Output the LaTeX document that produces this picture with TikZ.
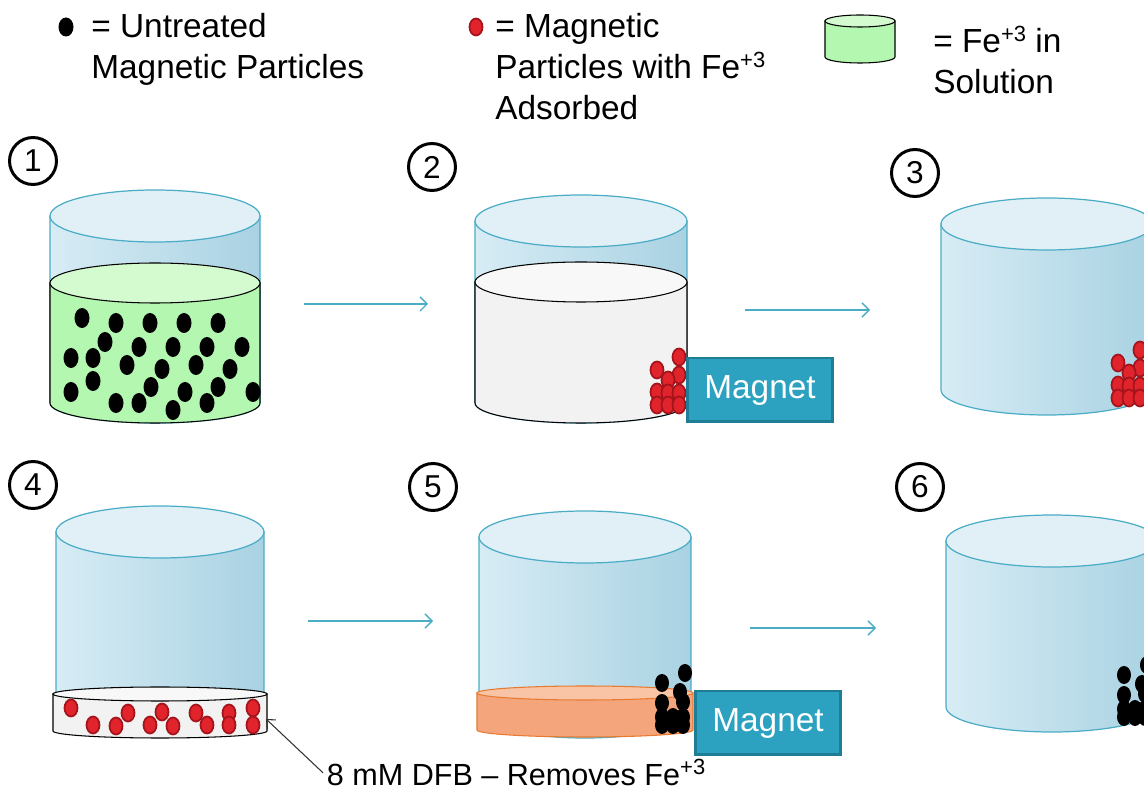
\documentclass[tikz,border=0pt]{standalone}
\usepackage{fontspec}
\setmainfont{Liberation Sans}
\usetikzlibrary{arrows.meta}

\definecolor{glassline}{HTML}{4BACC6}
\definecolor{glasstop}{HTML}{E1F0F7}
\definecolor{glassleft}{HTML}{D7ECF5}
\definecolor{glassright}{HTML}{A9D2E2}
\definecolor{fegreen}{HTML}{B3F7B0}
\definecolor{fegreentop}{HTML}{D3FBCF}
\definecolor{washgray}{HTML}{F2F2F2}
\definecolor{washtop}{HTML}{F8F8F8}
\definecolor{dfborange}{HTML}{F4A57B}
\definecolor{dfbtop}{HTML}{F8C4A5}
\definecolor{dfbline}{HTML}{E8792F}
\definecolor{feparticle}{HTML}{E1232B}
\definecolor{feparticleline}{HTML}{A3141B}
\definecolor{magnetfill}{HTML}{2DA2C0}
\definecolor{magnetline}{HTML}{1F7D96}

% charge written as a raised small number
\newcommand{\charge}[1]{\raisebox{6.5pt}{\fontsize{12.5}{12.5}\selectfont #1}}

\begin{document}
\begin{tikzpicture}[x=0.02cm,y=-0.02cm]
  \tikzstyle{num}=[circle,draw,line width=1.7pt,minimum size=0.94cm,inner sep=0pt,font=\fontsize{18}{20}\selectfont]
  \tikzstyle{txt}=[anchor=base west,align=left,inner sep=0pt,font=\fontsize{19}{23.4}\selectfont]
  \tikzset{glass/.style = {draw=glassline,line width=0.7pt,left color=glassleft,right color=glassright}}
  \tikzset{rim/.style = {draw=glassline,line width=0.7pt,fill=glasstop}}
  \tikzset{solution/.style = {draw=black,line width=0.6pt,fill=fegreen}}
  \tikzset{wash/.style = {draw=black,line width=0.6pt,fill=washgray}}
  \tikzset{dfb/.style = {draw=dfbline,line width=0.6pt,fill=dfborange}}
  \tikzset{flow/.style = {-{Straight Barb[length=4pt,width=8pt]},draw=glassline,line width=0.8pt}}
  \tikzset{pointer/.style = {-{Straight Barb[length=4pt,width=7pt]},draw=black!80,line width=0.6pt}}
  \tikzset{bare/.style = {fill=black}}
  \tikzset{loaded/.style = {fill=feparticle,draw=feparticleline,line width=1pt}}
  \tikzset{magnet/.style = {draw=magnetline,fill=magnetfill,line width=1.7pt,text=white,minimum width=2.9cm,minimum height=1.28cm,font=\fontsize{19}{20}\selectfont}}
  \clip (0,0) rectangle (1144,790);

  % legend (base anchor sits on the last line)
  \fill[bare] (66,27) ellipse[x radius=7.5,y radius=9.5];
  \node[txt] (untreated) at (91,79) {= Untreated\\Magnetic Particles};
  \draw[loaded] (476,27) ellipse[x radius=6.5,y radius=8.5];
  \node[txt] (adsorbed) at (495,120) {= Magnetic\\Particles with Fe\charge{+3}\\Adsorbed};
  \draw[solution] (825,21) -- (825,57) arc[start angle=180,end angle=0,x radius=35,y radius=6] -- (895,21) -- cycle;
  \draw[solution,fill=fegreentop] (860,21) ellipse[x radius=35,y radius=6];
  \node[txt] (insolution) at (933,94) {= Fe\charge{+3} in\\Solution};

  % step numbers
  \node[num] (n1) at (33,161) {1};
  \node[num] (n2) at (432,167) {2};
  \node[num] (n3) at (915,173) {3};
  \node[num] (n4) at (33,485) {4};
  \node[num] (n5) at (433,487) {5};
  \node[num] (n6) at (920,487) {6};

  % 1: particles in Fe solution
  \draw[glass] (50,216) -- (50,403) arc[start angle=180,end angle=0,x radius=105,y radius=20] -- (260,216) -- cycle;
  \draw[rim] (155,216) ellipse[x radius=105,y radius=26];
  \draw[solution] (50,283) -- (50,403) arc[start angle=180,end angle=0,x radius=105,y radius=20] -- (260,283) -- cycle;
  \draw[solution,fill=fegreentop] (155,283) ellipse[x radius=105,y radius=20];
  \foreach \x/\y in {82/318,116/323,150/323,184/323,218/323,
                     105/342,139/347,173/347,207/347,242/347,
                     71/358,93/358,127/365,162/369,196/365,230/369,
                     71/392,93/381,151/387,185/392,218/387,253/392,
                     116/403,139/403,173/410,207/403}
    \fill[bare] (\x,\y) ellipse[x radius=7.5,y radius=10];

  % 2: magnet pulls the loaded particles
  \draw[glass] (475,221) -- (475,403) arc[start angle=180,end angle=0,x radius=106,y radius=20] -- (687,221) -- cycle;
  \draw[rim] (581,221) ellipse[x radius=106,y radius=26];
  \draw[wash] (475,282) -- (475,403) arc[start angle=180,end angle=0,x radius=106,y radius=20] -- (687,282) -- cycle;
  \draw[wash,fill=washtop] (581,282) ellipse[x radius=106,y radius=20];
  \foreach \x/\y in {657/370,679/357,679/375,668/380,657/392,668/393,679/393,657/405,668/405,679/405}
    \draw[loaded] (\x,\y) ellipse[x radius=6.5,y radius=8.5];
  \node[magnet] (mag2) at (760,390) {Magnet};

  % 3: solution removed
  \draw[glass] (941,224) -- (941,390) arc[start angle=180,end angle=0,x radius=106,y radius=25] -- (1153,224) -- cycle;
  \draw[rim] (1047,224) ellipse[x radius=106,y radius=26];
  \begin{scope}[shift={(461,-7)}]
    \foreach \x/\y in {657/370,679/357,679/375,668/380,657/392,668/393,679/393,657/405,668/405,679/405}
      \draw[loaded] (\x,\y) ellipse[x radius=6.5,y radius=8.5];
  \end{scope}

  % 4: DFB wash
  \draw[glass] (56,532) -- (56,700) arc[start angle=180,end angle=0,x radius=104,y radius=7] -- (264,532) -- cycle;
  \draw[rim] (160,532) ellipse[x radius=104,y radius=26];
  \draw[wash] (53,694) -- (53,731) arc[start angle=180,end angle=0,x radius=107,y radius=7] -- (267,694) -- cycle;
  \draw[wash,fill=washtop] (160,694) ellipse[x radius=107,y radius=7];
  \foreach \x/\y in {71/708,93/725,116/726,128/713,150/725,162/712,173/726,196/713,207/725,229/713,229/725,253/708,253/725}
    \draw[loaded] (\x,\y) ellipse[x radius=6.5,y radius=8.5];
  \coordinate (dishedge) at (266,719);
  \node[anchor=base west,inner sep=2pt,font=\fontsize{17.4}{20}\selectfont] (dfbnote) at (323,786) {8 mM DFB -- Removes Fe\charge{+3}};
  \draw[pointer] (dfbnote.west) -- (dishedge);

  % 5: magnet holds the cleaned particles
  \draw[glass] (479,537) -- (479,712) arc[start angle=180,end angle=0,x radius=106,y radius=26] -- (691,537) -- cycle;
  \draw[rim] (585,537) ellipse[x radius=106,y radius=26];
  \draw[dfb] (477,693) -- (477,730) arc[start angle=180,end angle=0,x radius=108,y radius=7] -- (693,693) -- cycle;
  \draw[dfb,fill=dfbtop] (585,693) ellipse[x radius=108,y radius=7];
  \foreach \x/\y in {685/673,662/683,680/692,662/703,683/702,662/717,673/717,683/717,662/725,673/725,683/725}
    \fill[bare] (\x,\y) ellipse[x radius=7,y radius=9];
  \node[magnet] (mag5) at (768,723) {Magnet};

  % 6: DFB removed
  \draw[glass] (946,541) -- (946,707) arc[start angle=180,end angle=0,x radius=106,y radius=25] -- (1158,541) -- cycle;
  \draw[rim] (1052,541) ellipse[x radius=106,y radius=26];
  \begin{scope}[shift={(462,-8)}]
    \foreach \x/\y in {685/673,662/683,680/692,662/703,683/702,662/717,673/717,683/717,662/725,673/725,683/725}
      \fill[bare] (\x,\y) ellipse[x radius=7,y radius=9];
  \end{scope}

  % arrows between the steps
  \coordinate (a1) at (304,304);
  \coordinate (a2) at (428,304);
  \coordinate (b1) at (745,310);
  \coordinate (b2) at (870,310);
  \coordinate (c1) at (308,621);
  \coordinate (c2) at (433,621);
  \coordinate (d1) at (750,628);
  \coordinate (d2) at (876,628);
  \draw[flow] (a1) -- (a2);
  \draw[flow] (b1) -- (b2);
  \draw[flow] (c1) -- (c2);
  \draw[flow] (d1) -- (d2);
\end{tikzpicture}
\end{document}
